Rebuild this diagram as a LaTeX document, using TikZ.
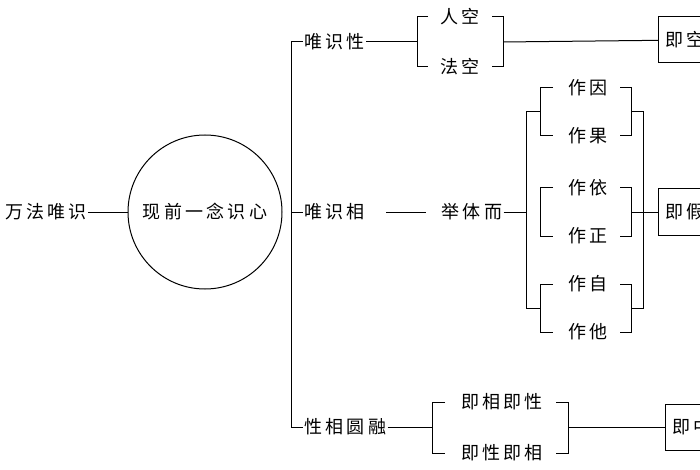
\documentclass[tikz,border=0pt]{standalone}
\usepackage{fontspec}
\setmainfont[LetterSpace=18]{Noto Sans CJK SC}
\usetikzlibrary{positioning}

\begin{document}
\begin{tikzpicture} [x=1pt, y=-1pt, line width=1pt, font=\fontsize{18}{20}\selectfont, every node/.style={inner sep=1pt}]
			% Frame: picture is 700 x 470
			\useasboundingbox (0,0) rectangle (700,470);
			\tikzset{box/.style={draw, minimum width=60pt, minimum height=46pt, anchor=west, text width=46pt, align=left}}
			% Left side
			\node (wan) at (46,212) {万法唯识};
			\node (xin) [draw, circle, minimum size=154pt, inner sep=0pt] at (205,212) {现前一念识心};
			\draw (wan) -- (xin);
			% Trunk
			\coordinate (t1) at (291,42);
			\coordinate (t3) at (291,427);
			\draw (t1) -- (t3);
			\node (xing) [anchor=west] at (303,42) {唯识性};
			\node (xiang) [anchor=west] at (303,212) {唯识相};
			\node (rong) [anchor=west] at (303,427) {性相圆融};
			\draw (t1) -- (xing);
			\draw (291,212) -- (xiang);
			\draw (t3) -- (rong);

			% Top branch
			\node (ren) at (460,17) {人空};
			\node (fa) at (460,67) {法空};
			\draw (xing) -- (417,42);
			\draw (428,17) -- (417,17) -- (417,67) -- (428,67);
			\draw (492,17) -- (503,17) -- (503,67) -- (492,67);
			\node (jk) [box] at (658,40) {即空};
			\draw (503,42) -- (jk);

			% Middle branch
			\node (ju) at (472,212) {举体而};
			\draw ([xshift=20pt]xiang.east) -- ([xshift=-14pt]ju.west);
			\draw (ju) -- (526,212);
			\draw (540,112) -- (526,112) -- (526,308) -- (540,308);
			\foreach \y/\a/\b in {88/作因/作果, 188/作依/作正, 284/作自/作他} {
				\node at (588,\y) {\a};
				\node at (588,\y+48) {\b};
				\draw (553,\y) -- (540,\y) -- (540,\y+48) -- (553,\y+48);
				\draw (620,\y) -- (631,\y) -- (631,\y+48) -- (620,\y+48);
			}
			\draw (631,112) -- (643,112) -- (643,308) -- (631,308);
			\node (jj) [box] at (658,212) {即假};
			\draw (631,212) -- (jj);

			% Bottom branch
			\node (a1) at (502,402) {即相即性};
			\node (a2) at (502,453) {即性即相};
			\draw (rong) -- (432,427);
			\draw (445,402) -- (432,402) -- (432,453) -- (445,453);
			\draw (556,402) -- (568,402) -- (568,453) -- (556,453);
			\node (jz) [box] at (665,427) {即中};
			\draw (568,427) -- (jz);
		\end{tikzpicture}
\end{document}
